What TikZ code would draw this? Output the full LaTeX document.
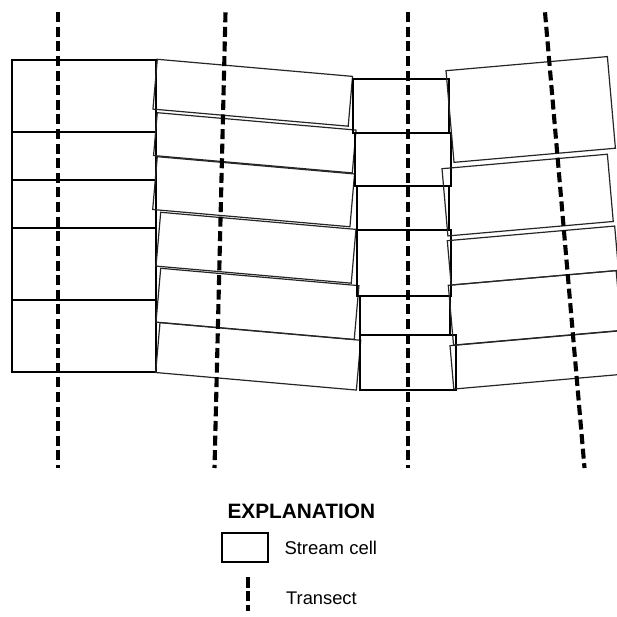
\documentclass[tikz,border=0pt]{standalone}
\usepackage{fontspec}
\setmainfont{Liberation Sans}
\begin{document}
\begin{tikzpicture}[x=1pt,y=-1pt,
  cellthick/.style={draw=black, line width=2pt, inner sep=0pt, outer sep=0pt, anchor=north west},
  cellthin/.style={draw=black!85, line width=1.2pt, inner sep=0pt, outer sep=0pt, anchor=north west},
  transectline/.style={line width=4.1pt, dash pattern=on 10pt off 4.6pt},
  lbl/.style={inner sep=0pt, anchor=base west}]
\useasboundingbox (0,0) rectangle (617,617);
\clip (0,0) rectangle (617,617);
% column 1
\node[cellthick, minimum width=144pt, minimum height=72pt] (c11) at (12,60) {};
\node[cellthick, minimum width=144pt, minimum height=48pt] (c12) at (12,132) {};
\node[cellthick, minimum width=144pt, minimum height=48pt] (c13) at (12,180) {};
\node[cellthick, minimum width=144pt, minimum height=72pt] (c14) at (12,228) {};
\node[cellthick, minimum width=144pt, minimum height=72pt] (c15) at (12,300) {};
% column 2
\node[cellthin, rotate=-5, minimum width=196pt, minimum height=50pt] (c21) at (157.3,59.3) {};
\node[cellthin, rotate=-5, minimum width=199.5pt, minimum height=43pt] (c22) at (157.3,112.7) {};
\node[cellthin, rotate=-5, minimum width=198pt, minimum height=53pt] (c23) at (157.3,156.7) {};
\node[cellthin, rotate=-5, minimum width=196pt, minimum height=54pt] (c24) at (160.7,212.3) {};
\node[cellthin, rotate=-5, minimum width=199pt, minimum height=54pt] (c25) at (160.7,268.3) {};
\node[cellthin, rotate=-5, minimum width=201.5pt, minimum height=50pt] (c26) at (160,322.7) {};
% column 3
\node[cellthick, minimum width=95.5pt, minimum height=54pt] (c31) at (353,79) {};
\node[cellthick, minimum width=96.2pt, minimum height=52.5pt] (c32) at (354.5,133.5) {};
\node[cellthick, minimum width=92.3pt, minimum height=44pt] (c33) at (356.7,186) {};
\node[cellthick, minimum width=94.3pt, minimum height=66pt] (c34) at (356.7,230) {};
\node[cellthick, minimum width=90.5pt, minimum height=39pt] (c35) at (359.5,296) {};
\node[cellthick, minimum width=96pt, minimum height=54.5pt] (c36) at (359.5,335) {};
% column 4
\node[cellthin, rotate=5, minimum width=162pt, minimum height=92pt] (c41) at (446,70.7) {};
\node[cellthin, rotate=5, minimum width=166pt, minimum height=67.5pt] (c42) at (442,168.7) {};
\node[cellthin, rotate=5, minimum width=168pt, minimum height=44.5pt] (c43) at (447.3,240.7) {};
\node[cellthin, rotate=5, minimum width=168.5pt, minimum height=60pt] (c44) at (448.3,285.3) {};
\node[cellthin, rotate=5, minimum width=175pt, minimum height=43.5pt] (c45) at (450,345.7) {};
% transects
\coordinate (t1a) at (58.3,12.3);  \coordinate (t1b) at (58.3,468);
\coordinate (t2a) at (225.5,12.3); \coordinate (t2b) at (214.5,468);
\coordinate (t3a) at (408,12.3);   \coordinate (t3b) at (408,468);
\coordinate (t4a) at (545,12.3);   \coordinate (t4b) at (584.5,468);
\draw[transectline] (t1a) -- (t1b);
\draw[transectline] (t2a) -- (t2b);
\draw[transectline] (t3a) -- (t3b);
\draw[transectline] (t4a) -- (t4b);
% legend
\node[lbl, font=\bfseries\fontsize{20.8}{24}\selectfont] (expl) at (227.3,518.3) {EXPLANATION};
\node[cellthick, minimum width=46pt, minimum height=29.3pt] (lgbox) at (222.3,533) {};
\node[lbl, font=\fontsize{18.5}{22}\selectfont] (lgcell) at (284.3,554.7) {Stream cell};
\coordinate (lta) at (248,577.3); \coordinate (ltb) at (248,611.3);
\draw[line width=4.1pt, dash pattern=on 10.3pt off 3.4pt] (lta) -- (ltb);
\node[lbl, font=\fontsize{18.3}{22}\selectfont] (lgtr) at (286,604.7) {Transect};
\end{tikzpicture}
\end{document}
